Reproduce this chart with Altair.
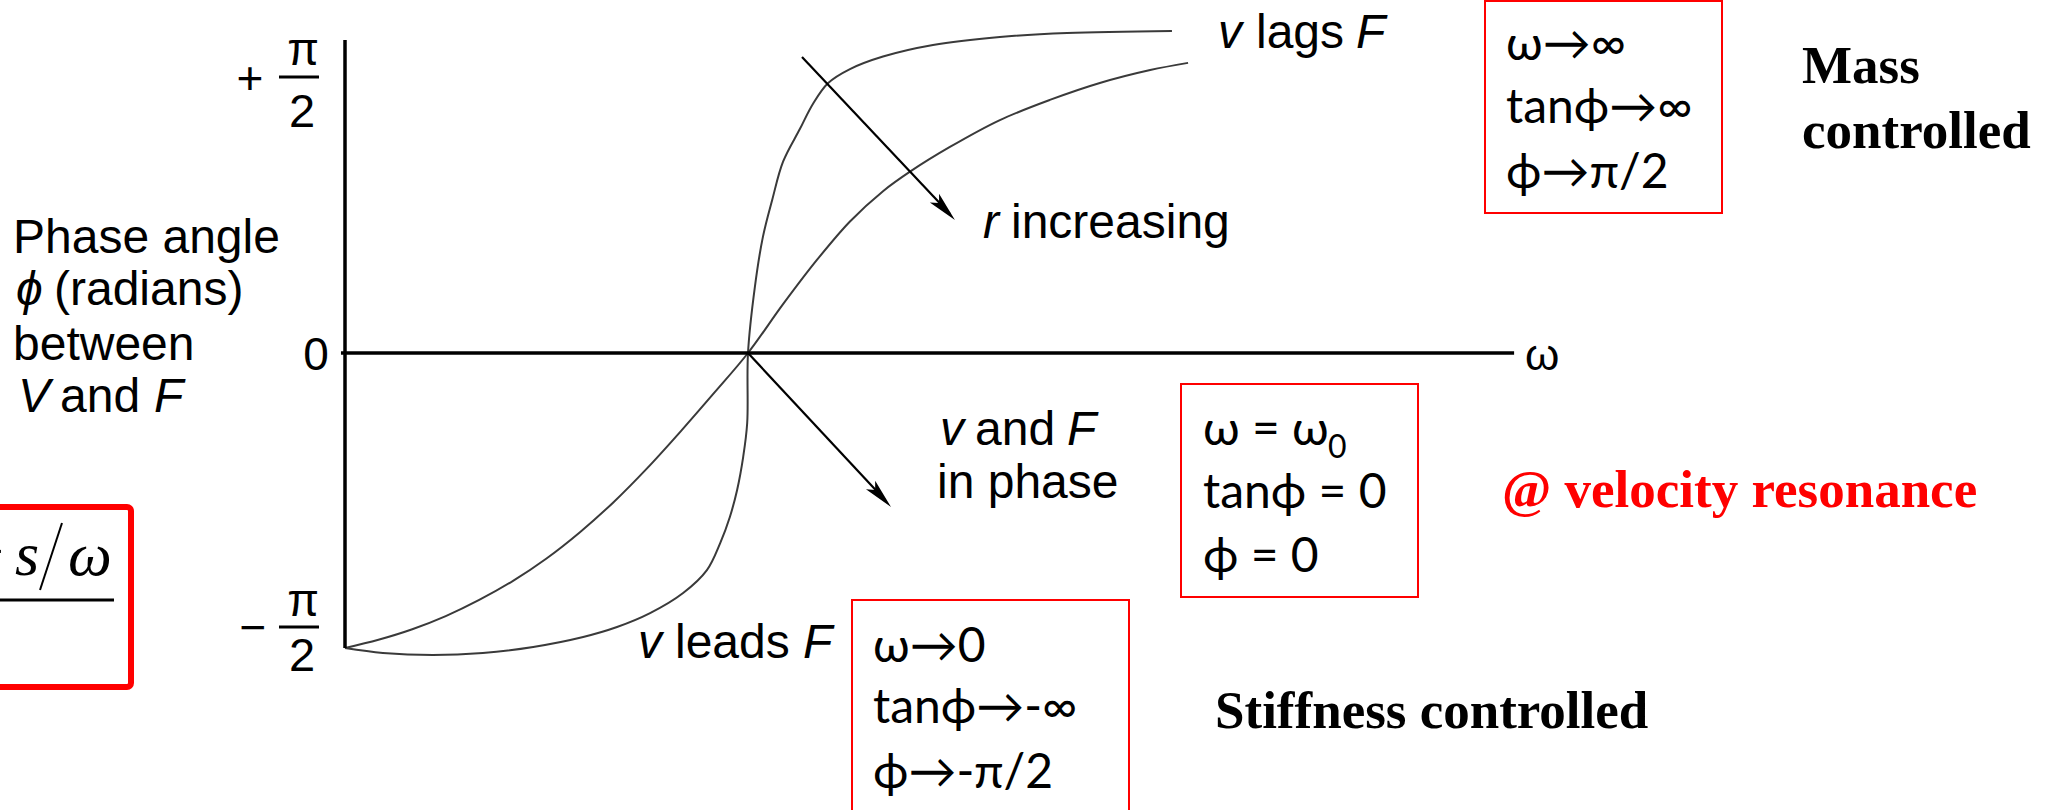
import math

import altair as alt
import pandas as pd

# Phase angle between velocity and driving force for two resistance values
# (omega in units of omega_0, phase in radians)
omega_sharp = [0.0, 0.094, 0.218, 0.342, 0.467, 0.591, 0.675, 0.757, 0.839, 0.898,
               0.931, 0.955, 0.973, 0.988, 0.998, 1.0, 1.017, 1.037, 1.060, 1.087,
               1.129, 1.161, 1.199, 1.253, 1.335, 1.459, 1.625, 1.792, 2.052]
phase_sharp = [-1.571, -1.597, -1.608, -1.597, -1.565, -1.512, -1.459, -1.385, -1.278, -1.156,
               -1.012, -0.873, -0.729, -0.554, -0.373, 0.0, 0.331, 0.583, 0.768, 0.960,
               1.125, 1.250, 1.355, 1.425, 1.488, 1.546, 1.586, 1.606, 1.616]

omega_broad = [0.0, 0.083, 0.167, 0.250, 0.333, 0.417, 0.500, 0.583, 0.667, 0.750,
               0.833, 0.917, 1.0, 1.087, 1.171, 1.253, 1.335, 1.402, 1.501, 1.625,
               1.749, 1.873, 1.998, 2.092]
phase_broad = [-1.571, -1.527, -1.471, -1.401, -1.315, -1.213, -1.094, -0.954, -0.793, -0.613,
               -0.417, -0.210, 0.0, 0.245, 0.467, 0.660, 0.812, 0.910, 1.034, 1.169,
               1.270, 1.355, 1.420, 1.456]

HALF_PI = math.pi / 2
OMEGA_AXIS_END = 2.901

# canvas and scales
W, H = 2056, 810
ORIGIN_PX = 345
PX_PER_OMEGA = 403
x_scale = alt.Scale(domain=[-ORIGIN_PX / PX_PER_OMEGA, (W - ORIGIN_PX) / PX_PER_OMEGA],
                    range=[0, W], nice=False, zero=False)
y_scale = alt.Scale(domain=[-HALF_PI, 0, HALF_PI], range=[648, 353, 40],
                    nice=False, zero=False)

SANS = "Liberation Sans, Arial, Helvetica, sans-serif"
SERIF = "Liberation Serif, Times New Roman, serif"
BOX_FONT = "Lato, Open Sans, DejaVu Sans, sans-serif"
RED = "#ff0000"

one = pd.DataFrame({"k": [0]})

curves = pd.DataFrame({
    "omega": omega_sharp + omega_broad,
    "phase": phase_sharp + phase_broad,
    "r": ["small"] * len(omega_sharp) + ["large"] * len(omega_broad),
    "order": list(range(len(omega_sharp))) + list(range(len(omega_broad))),
})

curve_layer = alt.Chart(curves).mark_line(
    color="#3a3a3a", strokeWidth=2, interpolate="catmull-rom"
).encode(
    x=alt.X("omega:Q", scale=x_scale, axis=None),
    y=alt.Y("phase:Q", scale=y_scale, axis=None),
    detail="r:N",
    order="order:Q",
)

axes_df = pd.DataFrame({
    "x": [0.0, -0.01], "x2": [0.0, OMEGA_AXIS_END],
    "y": [-HALF_PI, 0.0], "y2": [HALF_PI, 0.0],
})
axes_layer = alt.Chart(axes_df).mark_rule(color="black", strokeWidth=3.5).encode(
    x=alt.X("x:Q", scale=x_scale, axis=None),
    x2="x2:Q",
    y=alt.Y("y:Q", scale=y_scale, axis=None),
    y2="y2:Q",
)


def label(text, x, y, size=48, family=SANS, style="normal", weight="normal",
          color="black", align="left"):
    return alt.Chart(one).mark_text(
        text=text, align=align, baseline="alphabetic", font=family, fontSize=size,
        fontStyle=style, fontWeight=weight, color=color,
    ).encode(x=alt.value(x), y=alt.value(y))


def line(x1, y1, x2, y2, width=2.0, color="black"):
    return alt.Chart(one).mark_rule(color=color, strokeWidth=width).encode(
        x=alt.value(x1), y=alt.value(y1), x2=alt.value(x2), y2=alt.value(y2)
    )


def box(x1, y1, x2, y2, width=2.0, radius=0):
    return alt.Chart(one).mark_rect(
        fillOpacity=0, stroke=RED, strokeWidth=width, cornerRadius=radius
    ).encode(x=alt.value(x1), y=alt.value(y1), x2=alt.value(x2), y2=alt.value(y2))


DART = "M0,-1L0.42,1L0,0.55L-0.42,1Z"


def arrow_head(x, y, angle):
    return alt.Chart(one).mark_point(
        shape=DART, filled=True, size=900, angle=angle, color="black",
        opacity=1, strokeWidth=0,
    ).encode(x=alt.value(x), y=alt.value(y))


layers = [curve_layer, axes_layer]

# tick labels on the phase axis
layers += [
    label("0", 316, 370, size=46, align="center"),
    label("+", 250, 94, size=46, align="center"),
    label("π", 303, 65, size=46, align="center"),
    line(279, 77, 319, 77, width=3),
    label("2", 302, 127, size=47, align="center"),
    label("−", 253, 643, size=46, align="center"),
    label("π", 303, 616, size=46, align="center"),
    line(279, 627, 319, 627, width=3),
    label("2", 302, 671, size=47, align="center"),
    label("ω", 1525, 370, size=44),
]

# phase-axis title
layers += [
    label("Phase angle", 13, 253),
    label("ϕ", 16, 305, style="italic"),
    label("(radians)", 54, 305),
    label("between", 13, 360),
    label("V", 18, 412, style="italic"),
    label("and", 60, 412),
    label("F", 154, 412, style="italic"),
]

# curve annotations
layers += [
    label("v", 1218, 48, style="italic"),
    label("lags", 1256, 48),
    label("F", 1356, 48, style="italic"),
    label("r", 983, 238, style="italic"),
    label("increasing", 1011, 238),
    label("v", 940, 445, style="italic"),
    label("and", 975, 445),
    label("F", 1067, 445, style="italic"),
    label("in phase", 937, 498),
    label("v", 638, 658, style="italic"),
    label("leads", 675, 658),
    label("F", 803, 658, style="italic"),
]

# arrows
layers += [
    line(802, 57, 950, 214, width=2.2),
    arrow_head(944.7, 209.1, 137),
    line(748, 353, 885, 500, width=2.2),
    arrow_head(880.8, 496, 137),
]

# limiting-case boxes
layers += [
    box(1485, 1, 1722, 213),
    label("ω→∞", 1506, 60, size=48, family=BOX_FONT),
    label("tanϕ→∞", 1506, 123, size=48, family=BOX_FONT),
    label("ϕ→π/2", 1506, 188, size=48, family=BOX_FONT),
    box(1181, 384, 1418, 597),
    label("ω = ω", 1203, 445, size=48, family=BOX_FONT),
    label("0", 1328, 458, size=32, family=BOX_FONT),
    label("tanϕ = 0", 1203, 508, size=48, family=BOX_FONT),
    label("ϕ = 0", 1203, 572, size=48, family=BOX_FONT),
    box(852, 600, 1129, 814),
    label("ω→0", 873, 662, size=48, family=BOX_FONT),
    label("tanϕ→-∞", 873, 723, size=48, family=BOX_FONT),
    label("ϕ→-π/2", 873, 788, size=48, family=BOX_FONT),
]

# regime labels
layers += [
    label("Mass", 1802, 83, size=53, family=SERIF, weight="bold"),
    label("controlled", 1802, 148, size=53, family=SERIF, weight="bold"),
    label("Stiffness controlled", 1215, 728, size=53, family=SERIF, weight="bold"),
    label("@ velocity resonance", 1502, 507, size=53, family=SERIF, weight="bold", color=RED),
]

# tan(phi) expression at the left edge
layers += [
    box(-10, 507, 131, 687, width=6, radius=4),
    label("−", 4, 572, size=62, family=SERIF, align="right"),
    label("s", 15, 575, size=62, family=SERIF, style="italic"),
    line(62, 523, 40, 590, width=2),
    label("ω", 68, 575, size=62, family=SERIF, style="italic"),
    line(0, 600, 114, 600, width=3),
]

chart = alt.layer(*layers).properties(
    width=W, height=H, padding=0, autosize=alt.AutoSizeParams(type="none"),
    background="white",
).configure_view(stroke=None)

chart.save("out.html", embed_options={"renderer": "svg", "actions": False})
